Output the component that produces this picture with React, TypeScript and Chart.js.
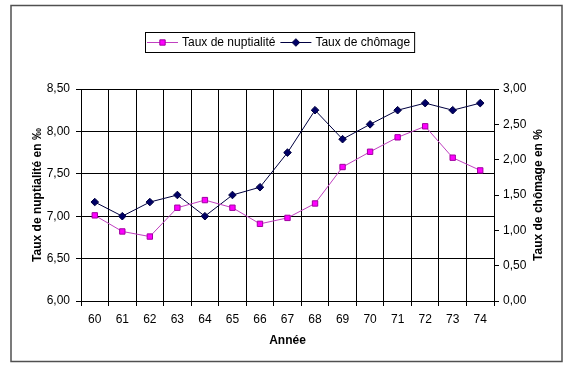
import React, { useEffect, useRef } from 'react';
import { Chart, registerables } from 'chart.js';

Chart.register(...registerables);

const years = ['60', '61', '62', '63', '64', '65', '66', '67', '68', '69', '70', '71', '72', '73', '74'];
const nuptialite = [7.01, 6.82, 6.76, 7.10, 7.19, 7.10, 6.91, 6.98, 7.15, 7.58, 7.76, 7.93, 8.06, 7.69, 7.54];
const chomage = [1.40, 1.20, 1.40, 1.50, 1.20, 1.50, 1.61, 2.10, 2.70, 2.29, 2.50, 2.70, 2.80, 2.70, 2.80];

const seriesNames = ['Taux de nuptialité', 'Taux de chômage'];
const xTitle = 'Année';
const leftTitle = 'Taux de nuptialité en ‰';
const rightTitle = 'Taux de chômage en %';
const leftRange = [6, 8.5, 0.5];
const rightRange = [0, 3, 0.5];

const FONT = "'Liberation Sans', Arial, sans-serif";
const fmt = (v: any) => Number(v).toFixed(2).replace('.', ',');

function drawMarker(ctx: CanvasRenderingContext2D, style: string, x: number, y: number, r: number, fill: string, stroke: string) {
  ctx.beginPath();
  if (style === 'rect') {
    const s = Math.SQRT1_2 * r;
    ctx.rect(x - s, y - s, 2 * s, 2 * s);
  } else {
    ctx.moveTo(x, y - r);
    ctx.lineTo(x + r, y);
    ctx.lineTo(x, y + r);
    ctx.lineTo(x - r, y);
    ctx.closePath();
  }
  ctx.fillStyle = fill;
  ctx.fill();
  ctx.strokeStyle = stroke;
  ctx.lineWidth = 1;
  ctx.stroke();
}

const decorPlugin = {
  id: 'decor',
  beforeDraw(chart: any) {
    const ctx = chart.ctx;
    ctx.save();
    ctx.fillStyle = '#ffffff';
    ctx.fillRect(0, 0, chart.width, chart.height);
    ctx.restore();
  },
  afterDraw(chart: any) {
    const ctx: CanvasRenderingContext2D = chart.ctx;
    const area = chart.chartArea;
    ctx.save();
    // outer frame
    ctx.strokeStyle = '#505050';
    ctx.lineWidth = 1.5;
    ctx.strokeRect(11, 5.5, 551, 356);

    // right axis title (reads bottom-to-top)
    ctx.save();
    ctx.translate(539, (area.top + area.bottom) / 2);
    ctx.rotate(-Math.PI / 2);
    ctx.font = `bold 12px ${FONT}`;
    ctx.fillStyle = '#000';
    ctx.textAlign = 'center';
    ctx.textBaseline = 'middle';
    ctx.fillText(rightTitle, 0, 0);
    ctx.restore();

    // legend
    ctx.font = `12px ${FONT}`;
    const items = chart.data.datasets.map((ds: any) => ({
      label: ds.label,
      line: ds.borderColor,
      fill: ds.pointBackgroundColor,
      stroke: ds.pointBorderColor,
      style: ds.pointStyle,
      r: ds.pointRadius,
      w: ctx.measureText(ds.label).width,
    }));
    const sample = 31, gapS = 4, gapE = 5, padL = 2, padR = 4;
    const total = padL + padR + items.reduce((s: number, it: any) => s + sample + gapS + it.w, 0) + gapE * (items.length - 1);
    const x0 = Math.round(280 - total / 2);
    const y0 = 32, h = 20;
    ctx.fillStyle = '#fff';
    ctx.fillRect(x0, y0, total, h);
    ctx.strokeStyle = '#000';
    ctx.lineWidth = 1;
    ctx.strokeRect(x0 + 0.5, y0 + 0.5, total, h);
    let x = x0 + padL;
    const yc = y0 + h / 2 + 0.5;
    items.forEach((it: any) => {
      ctx.strokeStyle = it.line;
      ctx.lineWidth = 1;
      ctx.beginPath();
      ctx.moveTo(x, yc);
      ctx.lineTo(x + sample, yc);
      ctx.stroke();
      drawMarker(ctx, it.style, x + sample / 2, yc, it.r, it.fill, it.stroke);
      x += sample + gapS;
      ctx.fillStyle = '#000';
      ctx.textAlign = 'left';
      ctx.textBaseline = 'middle';
      ctx.fillText(it.label, x, yc);
      x += it.w + gapE;
    });
    ctx.restore();
  },
};

export default function App() {
  const ref = useRef<HTMLCanvasElement | null>(null);
  useEffect(() => {
    if (!ref.current) return;
    const tickFont = { family: FONT, size: 12 };
    const titleFont = { family: FONT, size: 12, weight: 'bold' as const };
    const chart = new Chart(ref.current, {
      type: 'line',
      data: {
        labels: years,
        datasets: [
          {
            label: seriesNames[0],
            data: nuptialite,
            yAxisID: 'y',
            borderColor: '#c040c0',
            borderWidth: 1,
            pointStyle: 'rect',
            pointRadius: 3.8,
            pointBackgroundColor: '#ff00ff',
            pointBorderColor: '#a000a0',
            pointBorderWidth: 1,
            tension: 0,
          },
          {
            label: seriesNames[1],
            data: chomage,
            yAxisID: 'y1',
            borderColor: '#000040',
            borderWidth: 1,
            pointStyle: 'rectRot',
            pointRadius: 3.8,
            pointBackgroundColor: '#000066',
            pointBorderColor: '#000040',
            pointBorderWidth: 1,
            tension: 0,
          },
        ],
      },
      options: {
        animation: false,
        responsive: false,
        devicePixelRatio: 1,
        layout: { padding: { top: 89, left: 11, right: 12, bottom: 7 } },
        plugins: { legend: { display: false }, tooltip: { enabled: false } },
        scales: {
          x: {
            type: 'category',
            offset: true,
            grid: { offset: true, color: '#000', lineWidth: 1, tickLength: 5 },
            border: { color: '#000', width: 1 },
            ticks: { color: '#000', font: tickFont, padding: 6, maxRotation: 0, autoSkip: false },
            title: { display: true, text: xTitle, color: '#000', font: titleFont, padding: { top: 0, bottom: 14 } },
            afterFit: (s: any) => { s.height = 61; },
          },
          y: {
            position: 'left',
            min: leftRange[0],
            max: leftRange[1],
            ticks: { stepSize: leftRange[2], callback: fmt, color: '#000', font: tickFont, padding: 6 },
            grid: { color: '#000', lineWidth: 1, tickLength: 5 },
            border: { color: '#000', width: 1 },
            title: { display: true, text: leftTitle, color: '#000', font: titleFont, padding: { top: 19, bottom: 0 } },
            afterFit: (s: any) => { s.width = 70; },
          },
          y1: {
            position: 'right',
            min: rightRange[0],
            max: rightRange[1],
            ticks: { stepSize: rightRange[2], callback: fmt, color: '#000', font: tickFont, padding: 4 },
            grid: { drawOnChartArea: false, color: '#000', lineWidth: 1, tickLength: 5 },
            border: { color: '#000', width: 1 },
            afterFit: (s: any) => { s.width = 68; },
          },
        },
      },
      plugins: [decorPlugin],
    } as any);
    return () => chart.destroy();
  }, []);
  return (
    <div style={{ position: 'fixed', left: 0, top: 0, width: 574, height: 369, background: '#fff' }}>
      <canvas ref={ref} width={574} height={369} style={{ display: 'block', width: 574, height: 369 }} />
    </div>
  );
}
